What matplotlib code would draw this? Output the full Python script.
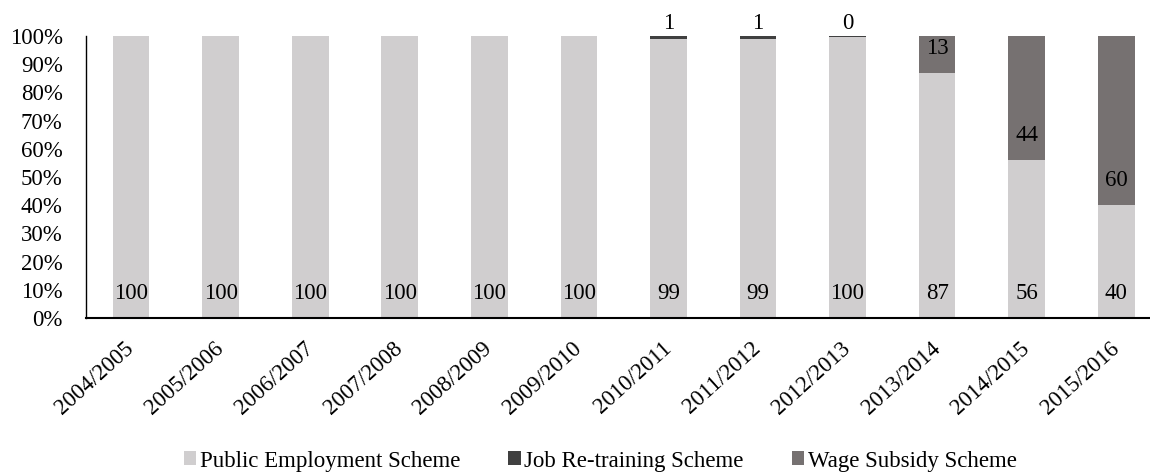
import matplotlib
matplotlib.use("Agg")
import matplotlib.pyplot as plt
import matplotlib.transforms as mtransforms
import numpy as np

years = ["2004/2005", "2005/2006", "2006/2007", "2007/2008", "2008/2009",
         "2009/2010", "2010/2011", "2011/2012", "2012/2013", "2013/2014",
         "2014/2015", "2015/2016"]
public_employment = [100, 100, 100, 100, 100, 100, 99, 99, 99.6, 87, 56, 40]
job_retraining = [0, 0, 0, 0, 0, 0, 1, 1, 0.4, 0, 0, 0]
wage_subsidy = [0, 0, 0, 0, 0, 0, 0, 0, 0, 13, 44, 60]

c_public = "#D0CECF"
c_job = "#404040"
c_wage = "#767171"

plt.rcParams["font.family"] = ["Liberation Serif", "DejaVu Serif"]

fig = plt.figure(figsize=(11.5, 4.73), dpi=100)
ax = fig.add_axes([86.3 / 1150, 1 - 318 / 473, (1161 - 86.3) / 1150, (318 - 36) / 473])

x = np.arange(len(years))
w = 0.41
pub = np.array(public_employment)
job = np.array(job_retraining)
wag = np.array(wage_subsidy)

ax.bar(x, pub, w, color=c_public, label="Public Employment Scheme")
ax.bar(x, job, w, bottom=pub, color=c_job, label="Job Re-training Scheme")
ax.bar(x, wag, w, bottom=pub + job, color=c_wage, label="Wage Subsidy Scheme")

fs = 16.5
inside = 8.7  # label offset above each segment's base
for i in range(len(years)):
    ax.text(x[i], inside, f"{pub[i]:.0f}", ha="center", va="center", fontsize=fs)
    if job[i] > 0:
        ax.text(x[i], pub[i] + job[i] + 0.6, f"{job[i]:.0f}", ha="center", va="bottom", fontsize=fs)
    if wag[i] > 0:
        ax.text(x[i], pub[i] + job[i] + inside, f"{wag[i]:.0f}", ha="center", va="center", fontsize=fs)

ax.set_xlim(-0.5, len(years) - 0.5)
ax.set_ylim(0, 100)
ax.set_yticks(np.arange(0, 101, 10))
ax.set_yticklabels([f"{v}%" for v in range(0, 101, 10)], fontsize=fs)
ax.set_xticks(x)
ax.set_xticklabels(years, rotation=42, ha="right", va="center", rotation_mode="anchor", fontsize=fs)
shift = mtransforms.ScaledTranslation(8 / 100, 0, fig.dpi_scale_trans)
for lbl in ax.get_xticklabels():
    lbl.set_transform(lbl.get_transform() + shift)
ax.tick_params(axis="both", length=0)
ax.tick_params(axis="y", pad=17)
ax.tick_params(axis="x", pad=20)
for s in ["top", "right"]:
    ax.spines[s].set_visible(False)
ax.spines["left"].set_color("black")
ax.spines["left"].set_linewidth(1.0)
ax.spines["bottom"].set_color("black")
ax.spines["bottom"].set_linewidth(1.5)

fig.legend(loc="center", bbox_to_anchor=(600 / 1150, 1 - 461 / 473), ncol=3, frameon=False,
           fontsize=fs, handlelength=0.55, handleheight=0.55, handletextpad=0.15,
           columnspacing=2.1, borderpad=0)

fig.savefig("out.png", dpi=100)
